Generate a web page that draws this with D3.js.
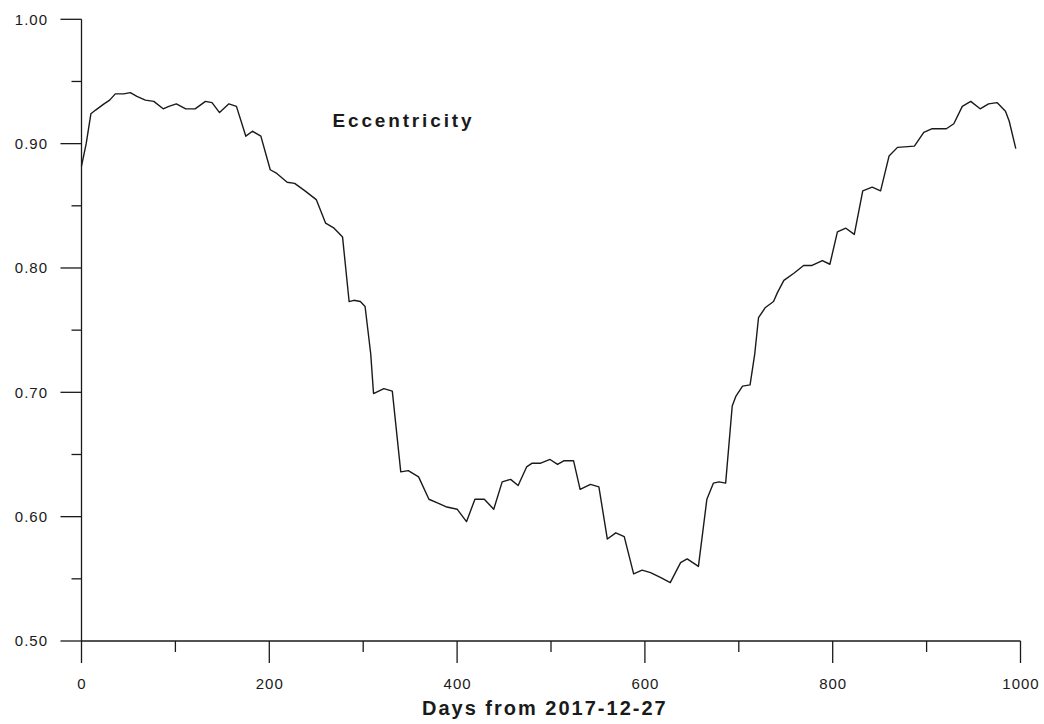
<!DOCTYPE html>
<html><head><meta charset="utf-8">
<script src="https://cdn.jsdelivr.net/npm/d3@7"></script>
<style>body{margin:0;background:#fff;} svg{display:block;}</style>
</head><body>
<svg id="c" width="1044" height="724"></svg>
<script>
const days = [0,5,10,15,24,30,36,45,52,59,68,77,87,93,101,111,121,132,139,147,157,165,175,182,191,201,208,219,227,238,250,260,269,278,285,290,297,302,308,311,322,331,340,348,359,370,379,388,400,410,419,429,439,448,457,465,474,480,489,499,507,514,524,531,542,551,560,569,578,588,597,606,617,627,638,645,657,666,673,679,686,693,697,704,712,717,721,728,737,741,748,759,769,778,789,797,805,814,823,832,842,851,860,869,887,897,906,921,929,938,947,957,966,975,984,988,995];
const ecc = [0.882,0.900,0.924,0.927,0.932,0.935,0.940,0.940,0.941,0.938,0.935,0.934,0.928,0.930,0.932,0.928,0.928,0.934,0.933,0.925,0.932,0.930,0.906,0.910,0.906,0.879,0.876,0.869,0.868,0.862,0.855,0.836,0.832,0.825,0.773,0.774,0.773,0.769,0.731,0.699,0.703,0.701,0.636,0.637,0.632,0.614,0.611,0.608,0.606,0.596,0.614,0.614,0.606,0.628,0.630,0.625,0.640,0.643,0.643,0.646,0.642,0.645,0.645,0.622,0.626,0.624,0.582,0.587,0.584,0.554,0.557,0.555,0.551,0.547,0.563,0.566,0.560,0.614,0.627,0.628,0.627,0.689,0.697,0.705,0.706,0.731,0.760,0.768,0.773,0.780,0.790,0.796,0.802,0.802,0.806,0.803,0.829,0.832,0.827,0.862,0.865,0.862,0.890,0.897,0.898,0.909,0.912,0.912,0.916,0.930,0.934,0.928,0.932,0.933,0.926,0.918,0.896];
const xMajor = [0,200,400,600,800,1000];
const xMinor = [100,300,500,700,900];
const yMajor = [0.50,0.60,0.70,0.80,0.90,1.00];
const yMinor = [0.55,0.65,0.75,0.85,0.95];
const title = "Eccentricity";
const xTitle = "Days from 2017-12-27";

const svg = d3.select("#c");
const x = d3.scaleLinear().domain([0,1000]).range([81.5,1020.5]);
const y = d3.scaleLinear().domain([0.5,1.0]).range([641,19.3]);
const col = "#1a1a1a";
const font = "'Liberation Sans', Arial, sans-serif";

// axes lines
const ax = svg.append("g").attr("stroke", col).attr("stroke-width", 1.3).attr("fill","none");
ax.append("line").attr("x1", x(0)).attr("x2", x(0)).attr("y1", y(1)).attr("y2", y(0.5));
ax.append("line").attr("x1", x(0)).attr("x2", x(1000)).attr("y1", y(0.5)).attr("y2", y(0.5));
yMajor.forEach(v => ax.append("line").attr("x1", x(0)-21).attr("x2", x(0)).attr("y1", y(v)).attr("y2", y(v)));
yMinor.forEach(v => ax.append("line").attr("x1", x(0)-10).attr("x2", x(0)).attr("y1", y(v)).attr("y2", y(v)));
xMajor.forEach(v => ax.append("line").attr("x1", x(v)).attr("x2", x(v)).attr("y1", y(0.5)).attr("y2", y(0.5)+22));
xMinor.forEach(v => ax.append("line").attr("x1", x(v)).attr("x2", x(v)).attr("y1", y(0.5)).attr("y2", y(0.5)+11));

// tick labels
const tl = svg.append("g").attr("font-family", font).attr("font-size", 15).attr("letter-spacing", 1).attr("fill", col);
yMajor.forEach(v => tl.append("text").attr("x", 48).attr("y", y(v)).attr("dy","0.36em").attr("text-anchor","end").text(v.toFixed(2)));
xMajor.forEach(v => tl.append("text").attr("x", x(v)+0.5).attr("y", 689).attr("text-anchor","middle").text(v));

// titles
svg.append("text").attr("x", 422).attr("y", 715)
  .attr("font-family", font).attr("font-weight","bold").attr("font-size", 20).attr("letter-spacing", 2).attr("fill", col).text(xTitle);
svg.append("text").attr("x", 332.5).attr("y", 127)
  .attr("font-family", font).attr("font-weight","bold").attr("font-size", 19)
  .attr("textLength", 139).attr("lengthAdjust","spacing").attr("fill", col).text(title);

// line
const line = d3.line().x((d,i)=>x(days[i])).y((d,i)=>y(ecc[i]));
svg.append("path").datum(ecc).attr("d", line).attr("fill","none").attr("stroke", col).attr("stroke-width", 1.4).attr("stroke-linejoin","round");
</script>
</body></html>
